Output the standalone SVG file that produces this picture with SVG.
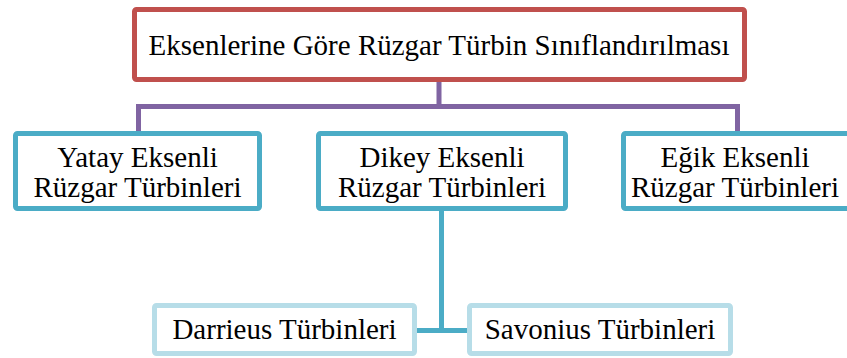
<svg xmlns="http://www.w3.org/2000/svg" width="847" height="358" viewBox="0 0 847 358">
<style>
.t{font-family:"Liberation Serif","Times New Roman",serif;font-size:29px;fill:#000;text-anchor:middle}
.red{fill:#fff;stroke:#C0504D;stroke-width:5}
.mid{fill:#fff;stroke:#4BACC6;stroke-width:5}
.low{fill:#fff;stroke:#B7DDE8;stroke-width:5}
.pc{fill:none;stroke:#8064A2;stroke-width:5}
.tc{fill:none;stroke:#4BACC6;stroke-width:5}
</style>
<rect width="847" height="358" fill="#fff"/>
<g id="connectors">
<path class="pc" d="M439 80V106.5M138.5 133V106.5H737.5V133"/>
<path class="tc" d="M441.5 211V330.5M415 330.5H469"/>
</g>
<g id="root"><rect class="red" x="134.5" y="9.5" width="610" height="70" rx="2"/><text class="t" x="439" y="55">Eksenlerine Göre Rüzgar Türbin Sınıflandırılması</text></g>
<g id="yatay"><rect class="mid" x="15.5" y="133.5" width="244" height="75" rx="2"/><text class="t" x="137.5" y="167">Yatay Eksenli</text><text class="t" x="137.5" y="197">Rüzgar Türbinleri</text></g>
<g id="dikey"><rect class="mid" x="318.5" y="133.5" width="247" height="75" rx="2"/><text class="t" x="442" y="167">Dikey Eksenli</text><text class="t" x="442" y="197">Rüzgar Türbinleri</text></g>
<g id="egik"><rect class="mid" x="623.5" y="133.5" width="226" height="75" rx="2"/><text class="t" x="735" y="167">Eğik Eksenli</text><text class="t" x="735" y="197">Rüzgar Türbinleri</text></g>
<g id="darrieus"><rect class="low" x="154.5" y="305.5" width="260" height="48" rx="2"/><text class="t" x="284.5" y="339">Darrieus Türbinleri</text></g>
<g id="savonius"><rect class="low" x="469.5" y="305.5" width="261" height="48" rx="2"/><text class="t" x="600" y="339">Savonius Türbinleri</text></g>
</svg>
